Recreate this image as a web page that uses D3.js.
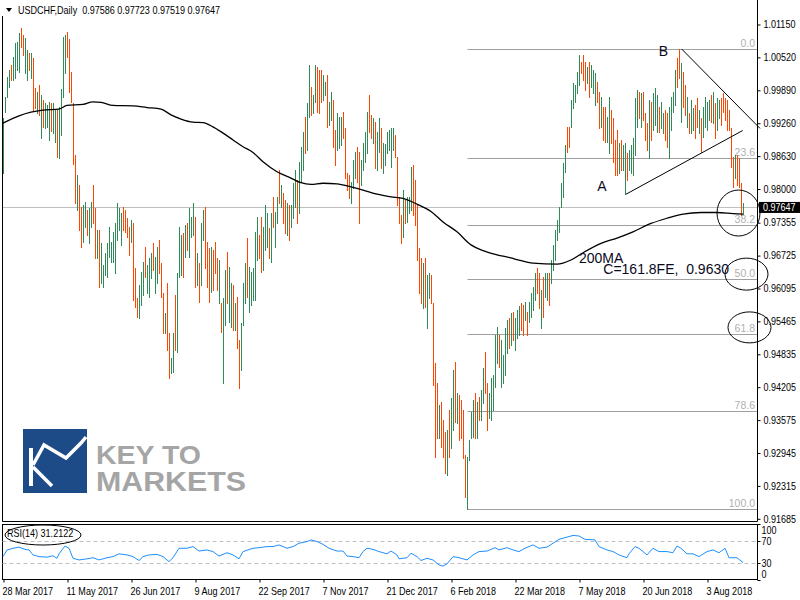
<!DOCTYPE html>
<html><head><meta charset="utf-8">
<script src="https://cdn.jsdelivr.net/npm/d3@7"></script>
<style>
body{margin:0;background:#fff}
svg{display:block}
.ax text, text.ax{font-family:"Liberation Sans",Arial,sans-serif;font-size:11px}
.ax text{fill:#000}
.ay text{font-family:"Liberation Sans",Arial,sans-serif;font-size:10px;fill:#000}
</style>
</head><body><svg id="c" width="800" height="600"></svg>
<script>
// ---------- data ----------
const symbolTitle = "USDCHF,Daily";
const lastOHLC = ["0.97586","0.97723","0.97519","0.97647"];
const lastPrice = 0.97647;
const dateLabels = ["28 Mar 2017","11 May 2017","26 Jun 2017","9 Aug 2017","22 Sep 2017","7 Nov 2017","21 Dec 2017","6 Feb 2018","22 Mar 2018","7 May 2018","20 Jun 2018","3 Aug 2018"];
const dateLabelIdx = [0,32,64,96,128,160,192,224,256,288,320,352];
const priceTicks = [1.01150,1.00520,0.99890,0.99260,0.98630,0.98000,0.97355,0.96725,0.96095,0.95465,0.94835,0.94205,0.93575,0.92945,0.92315,0.91685];
const rsiTicks = [100,70,30,0];
const rsiLevels = [70,30];

const highs = [0.9936,0.9976,1.0015,1.0028,1.0037,1.0053,1.0080,1.0082,1.0099,1.0108,
1.0095,1.0089,1.0066,1.0061,1.0061,1.0051,0.9993,0.9986,0.9999,0.9980,
0.9970,0.9965,0.9961,0.9967,0.9965,0.9965,0.9951,0.9951,0.9957,0.9992,
1.0091,1.0095,1.0101,1.0087,1.0024,0.9965,0.9865,0.9827,0.9808,0.9766,
0.9769,0.9775,0.9760,0.9764,0.9775,0.9808,0.9764,0.9722,0.9722,0.9697,
0.9655,0.9677,0.9697,0.9727,0.9699,0.9718,0.9735,0.9773,0.9764,0.9754,
0.9766,0.9760,0.9744,0.9727,0.9741,0.9735,0.9649,0.9591,0.9616,0.9641,
0.9660,0.9689,0.9655,0.9668,0.9677,0.9697,0.9670,0.9689,0.9702,0.9658,
0.9601,0.9563,0.9620,0.9524,0.9476,0.9524,0.9597,0.9639,0.9727,0.9712,
0.9716,0.9731,0.9735,0.9764,0.9746,0.9773,0.9746,0.9677,0.9658,0.9735,
0.9760,0.9766,0.9699,0.9687,0.9689,0.9683,0.9699,0.9668,0.9664,0.9582,
0.9591,0.9645,0.9679,0.9651,0.9620,0.9616,0.9582,0.9593,0.9511,0.9543,
0.9620,0.9658,0.9706,0.9651,0.9641,0.9649,0.9718,0.9746,0.9712,0.9746,
0.9727,0.9769,0.9754,0.9725,0.9754,0.9785,0.9756,0.9785,0.9836,0.9808,
0.9792,0.9779,0.9773,0.9769,0.9769,0.9812,0.9836,0.9817,0.9852,0.9880,
0.9909,0.9938,0.9965,1.0037,0.9995,0.9980,1.0037,1.0034,1.0028,1.0028,
1.0018,1.0005,1.0018,0.9967,0.9986,0.9970,0.9913,0.9946,0.9938,0.9938,
0.9948,0.9917,0.9831,0.9827,0.9813,0.9856,0.9871,0.9880,0.9871,0.9856,
0.9888,0.9909,0.9948,0.9980,0.9942,0.9936,0.9928,0.9909,0.9936,0.9917,
0.9888,0.9886,0.9909,0.9913,0.9917,0.9917,0.9903,0.9861,0.9785,0.9750,
0.9798,0.9779,0.9785,0.9785,0.9842,0.9846,0.9817,0.9769,0.9687,0.9668,
0.9658,0.9668,0.9635,0.9639,0.9635,0.9582,0.9467,0.9429,0.9386,0.9392,
0.9358,0.9335,0.9339,0.9377,0.9400,0.9453,0.9469,0.9409,0.9406,0.9396,
0.9377,0.9291,0.9287,0.9319,0.9373,0.9396,0.9409,0.9392,0.9402,0.9415,
0.9457,0.9488,0.9429,0.9409,0.9438,0.9444,0.9520,0.9536,0.9520,0.9511,
0.9482,0.9534,0.9549,0.9553,0.9563,0.9564,0.9553,0.9568,0.9576,0.9582,
0.9578,0.9584,0.9564,0.9584,0.9601,0.9612,0.9639,0.9649,0.9639,0.9607,
0.9632,0.9639,0.9639,0.9639,0.9664,0.9693,0.9722,0.9741,0.9766,0.9812,
0.9850,0.9884,0.9919,0.9919,0.9970,1.0003,0.9999,1.0024,1.0057,1.0043,
1.0057,1.0043,1.0034,1.0043,1.0037,1.0028,1.0022,1.0005,0.9986,0.9976,
0.9957,0.9957,0.9938,0.9976,0.9951,0.9936,0.9894,0.9913,0.9888,0.9894,
0.9884,0.9888,0.9869,0.9875,0.9884,0.9898,0.9974,0.9990,0.9986,0.9984,
0.9986,0.9946,0.9926,0.9970,0.9967,0.9984,0.9993,0.9980,0.9957,0.9967,
0.9946,0.9951,0.9946,0.9957,0.9976,0.9986,1.0028,1.0051,1.0068,1.0041,
1.0024,0.9999,0.9976,0.9946,0.9970,0.9955,0.9961,0.9974,0.9951,0.9936,
0.9957,0.9976,0.9967,0.9970,0.9980,0.9986,0.9965,0.9974,0.9970,0.9974,
0.9984,0.9974,0.9970,0.9951,0.9917,0.9861,0.9865,0.9865,0.9859,0.9812,
0.97723];
const lows = [0.9831,0.9948,0.9976,0.9995,1.0009,1.0009,1.0013,1.0028,1.0024,1.0072,
1.0057,1.0022,1.0009,1.0028,1.0013,0.9951,0.9955,0.9946,0.9942,0.9898,
0.9919,0.9917,0.9919,0.9894,0.9911,0.9907,0.9890,0.9861,0.9859,0.9903,
0.9976,1.0022,1.0053,0.9986,0.9967,0.9848,0.9773,0.9760,0.9722,0.9689,
0.9699,0.9727,0.9712,0.9697,0.9727,0.9735,0.9668,0.9668,0.9612,0.9620,
0.9612,0.9635,0.9632,0.9670,0.9660,0.9660,0.9639,0.9702,0.9722,0.9693,
0.9722,0.9718,0.9708,0.9674,0.9699,0.9587,0.9574,0.9555,0.9553,0.9578,
0.9597,0.9632,0.9601,0.9593,0.9630,0.9645,0.9601,0.9620,0.9639,0.9593,
0.9524,0.9524,0.9492,0.9438,0.9448,0.9450,0.9492,0.9488,0.9632,0.9635,
0.9632,0.9670,0.9683,0.9670,0.9708,0.9712,0.9612,0.9616,0.9584,0.9616,
0.9702,0.9649,0.9612,0.9584,0.9603,0.9607,0.9639,0.9607,0.9582,0.9526,
0.9429,0.9540,0.9582,0.9545,0.9536,0.9530,0.9530,0.9496,0.9419,0.9453,
0.9540,0.9582,0.9593,0.9565,0.9578,0.9587,0.9587,0.9664,0.9668,0.9641,
0.9645,0.9683,0.9689,0.9668,0.9660,0.9727,0.9689,0.9735,0.9773,0.9766,
0.9735,0.9716,0.9712,0.9702,0.9727,0.9744,0.9766,0.9735,0.9754,0.9813,
0.9836,0.9869,0.9875,0.9938,0.9942,0.9946,0.9967,0.9948,0.9946,0.9967,
0.9970,0.9980,0.9919,0.9923,0.9932,0.9880,0.9846,0.9875,0.9879,0.9884,
0.9898,0.9821,0.9798,0.9783,0.9773,0.9802,0.9821,0.9813,0.9735,0.9808,
0.9836,0.9852,0.9869,0.9909,0.9898,0.9888,0.9840,0.9836,0.9871,0.9840,
0.9831,0.9846,0.9869,0.9875,0.9842,0.9875,0.9861,0.9769,0.9735,0.9697,
0.9708,0.9735,0.9737,0.9754,0.9760,0.9750,0.9731,0.9664,0.9601,0.9582,
0.9572,0.9574,0.9534,0.9591,0.9582,0.9425,0.9287,0.9323,0.9323,0.9306,
0.9287,0.9256,0.9252,0.9287,0.9304,0.9339,0.9354,0.9352,0.9319,0.9323,
0.9285,0.9210,0.9187,0.9281,0.9323,0.9325,0.9323,0.9323,0.9358,0.9358,
0.9390,0.9409,0.9339,0.9361,0.9358,0.9377,0.9421,0.9467,0.9459,0.9421,
0.9429,0.9444,0.9486,0.9496,0.9501,0.9511,0.9492,0.9515,0.9520,0.9530,
0.9520,0.9549,0.9520,0.9545,0.9555,0.9568,0.9587,0.9601,0.9572,0.9534,
0.9555,0.9593,0.9587,0.9578,0.9620,0.9645,0.9664,0.9702,0.9718,0.9766,
0.9785,0.9833,0.9871,0.9880,0.9919,0.9955,0.9967,0.9984,0.9999,1.0022,
1.0009,0.9990,1.0003,0.9976,0.9995,0.9984,0.9961,0.9967,0.9917,0.9919,
0.9894,0.9890,0.9890,0.9869,0.9888,0.9852,0.9827,0.9827,0.9831,0.9836,
0.9836,0.9790,0.9817,0.9836,0.9831,0.9827,0.9865,0.9919,0.9936,0.9919,
0.9932,0.9894,0.9875,0.9859,0.9894,0.9913,0.9923,0.9909,0.9909,0.9917,
0.9907,0.9894,0.9880,0.9859,0.9913,0.9948,0.9961,0.9995,1.0013,0.9928,
0.9957,0.9942,0.9919,0.9907,0.9907,0.9913,0.9898,0.9919,0.9907,0.9871,
0.9900,0.9919,0.9913,0.9932,0.9928,0.9926,0.9898,0.9913,0.9936,0.9923,
0.9948,0.9932,0.9913,0.9913,0.9842,0.9804,0.9821,0.9808,0.9804,0.9750,
0.97519];
// G = bar closed up, O = bar closed down
const barDir = "GGGGOGGGGO"+"OGGOGOOGOG"+"OGGGOGGOGG"+"GGOOOOOGOO"+"GGOGGOOGOG"+
"GGGGGGGGGG"+"OOOOGOOOGG"+"GOGGGOGGOO"+"OGOOGGOGGG"+"OGOGGGOGOG"+
"GOOOGOOOGO"+"GGOGGOGOOG"+"GGOGGGGGOO"+"GGGOGOGGOG"+"OOGOGGGOGG"+
"GOGGOGGOOO"+"GGOGGOOGGG"+"OOOOGGGOOG"+"GGGOOGOGGO"+"GGGGGGOOOO"+
"GOGGGOOOOO"+"GOGGOOOOGO"+"OOGOGGOGOO"+"OOGGGGOGOG"+"GOOGGGGGOG"+
"GGGOGOGGGO"+"OGOGGGGOOG"+"OGGOGGGGGG"+"GGOOGGGGGO"+"OOGOGGGOOG"+
"OOGGOOOOGO"+"GGOGGGGGOG"+"OOOGOGGGOG"+"GOOGGGGOOG"+"OOGOGGOOGO"+
"GGGGOGOGGO"+"OOOOOOGOOO"+"G";

// 200-day moving average, read at selected bars
const maIdx = [0,8,14,20,28,32,40,45,49,55,65,72,79,84,89,95,100,105,110,115,120,125,130,137,144,149,154,160,167,174,180,187,194,200,207,214,220,227,234,240,247,254,257,265,277,284,290,299,307,315,324,332,340,349,357,365,370];
const maVal = [0.9926,0.9940,0.9947,0.9951,0.9953,0.9960,0.9962,0.9967,0.9966,0.9960,0.9959,0.9956,0.9953,0.9942,0.9934,0.9928,0.9927,0.9919,0.9907,0.9894,0.9881,0.9870,0.9852,0.9833,0.9821,0.9812,0.9809,0.9811,0.9810,0.9804,0.9798,0.9790,0.9785,0.9782,0.9771,0.9757,0.9737,0.9718,0.9693,0.9682,0.9674,0.9668,0.9665,0.9658,0.9656,0.9664,0.9678,0.9696,0.9706,0.9718,0.9734,0.9744,0.9752,0.9755,0.9755,0.9753,0.9752];

// RSI(14), read at selected bars
const rsiIdx = [0,2,5,8,11,13,15,18,22,25,27,28,31,33,35,38,42,45,48,52,55,58,62,65,68,70,73,77,80,83,85,88,92,95,98,102,105,108,112,115,118,120,125,128,132,135,138,142,145,148,152,154,157,160,163,167,170,172,175,178,180,182,185,188,192,194,197,198,202,204,207,209,212,215,218,220,222,225,228,232,235,238,242,246,248,252,255,258,261,265,268,272,275,278,282,285,288,291,296,298,302,305,308,312,313,316,318,322,325,328,332,335,337,339,342,345,348,352,355,358,361,363,367,370];
const rsiVal = [42,54,57,59,55,54,45,42,41,43.5,39,47,61,57,39,36,38,40,36,40,42,47,45,42,35,42,45,46,42,33,40,57,57,60,52,54,51,43,49,45,38,51,57,58,60,60,63,57,60,66,69,72,69,64,57,52,52,43,42,40,51,57,55,51,47,52,45,38,40,48,42,35,39,36,27,25,29,42,40,36,45,51,52,58,54,58,54,51,57,63,57,59,66,73,77,80,79,73,72,60,54,51,45,40,47,60,57,45,57,51,51,49,61,57,47,47,42,51,54,49,57,40,40,31.2122];
const rsiLabel = "RSI(14) 31.2122";

// Fibonacci retracement
const fibLevels = [0,23.6,38.2,50,61.8,78.6,100];
const fibHigh = 1.00675, fibLow = 0.91866, fibStartIdx = 232;

// drawn objects (bar index, price)
const lowerTrend = [[311.5,0.9790],[369.85,0.9912]];
const upperTrend = [[339.35,1.0068],[378.5,0.9916]];
const notes = [
  {t:"A", i:299.4, p:0.9806, anchor:"middle", mid:true},
  {t:"B", i:330.15, p:1.0064, anchor:"middle", mid:true},
  {t:"200MA", i:288, p:0.9658, anchor:"start"},
  {t:"C=161.8FE,  0.9630", i:300.15, p:0.9637, anchor:"start"}
];
const rings = [
  {i:367.75, p:0.9754, rx:21.5, ry:23},
  {i:371.75, p:0.9637, rx:21.5, ry:16},
  {i:373.25, p:0.9535, rx:21.5, ry:15.5}
];

// ---------- layout ----------
const svg = d3.select("#c");
const plotL = 2.5, plotR = 757.5, mainBot = 521.5, rsiTop = 524.5, rsiBot = 579.5;
const x = d3.scaleLinear().domain([0, 370]).range([3, 743]);
const y = d3.scaleLinear().domain([0.91685, 1.01150]).range([518.8, 24.5]);
const yR = d3.scaleLinear().domain([0, 100]).range([580, 524.3]);
const px = v => Math.round(v) + 0.5;
function narrow(sel, f){ sel.each(function(){ const w=this.getComputedTextLength(); if(w>0){ d3.select(this).attr("textLength", (w*f).toFixed(1)).attr("lengthAdjust","spacingAndGlyphs"); } }); }

// watermark logo
const logo = svg.append("g");
logo.append("rect").attr("x",23).attr("y",429).attr("width",64).attr("height",64).attr("fill","#1d4b88");
logo.append("rect").attr("x",29).attr("y",448).attr("width",4).attr("height",38).attr("fill","#fff");
logo.append("path").attr("d","M33,467 L52,486").attr("stroke","#fff").attr("stroke-width",3.5).attr("fill","none");
logo.append("path").attr("d","M33,465 L44,445 L66,458 L81,443 L86,437").attr("stroke","#fff").attr("stroke-width",3.5).attr("fill","none").attr("stroke-linejoin","miter");
logo.append("text").attr("x",96).attr("y",463.5).attr("textLength",105).attr("lengthAdjust","spacingAndGlyphs")
  .style("font-family","'Liberation Sans',Arial,sans-serif").style("font-size","25px").style("font-weight","bold").attr("fill","#a5a5a5").text("KEY TO");
logo.append("text").attr("x",96).attr("y",490.5).attr("textLength",150).attr("lengthAdjust","spacingAndGlyphs")
  .style("font-family","'Liberation Sans',Arial,sans-serif").style("font-size","27px").style("font-weight","bold").attr("fill","#a5a5a5").text("MARKETS");

// current price line
svg.append("line").attr("x1",plotL).attr("x2",plotR).attr("y1",px(y(lastPrice))).attr("y2",px(y(lastPrice)))
  .attr("stroke","#c0c0c0").attr("stroke-width",1);

// fib levels
const fib = svg.append("g");
fibLevels.forEach(l => {
  const p = fibHigh - (fibHigh - fibLow) * l / 100;
  fib.append("line").attr("x1",px(x(fibStartIdx))).attr("x2",plotR).attr("y1",px(y(p))).attr("y2",px(y(p)))
    .attr("stroke","#a0a0a0").attr("stroke-width",1);
  fib.append("text").attr("x",755).attr("y",px(y(p))-2.5).attr("text-anchor","end")
    .style("font-family","'Liberation Sans',Arial,sans-serif").style("font-size","10.5px").attr("fill","#b0b0b0")
    .text(l === 0 ? "0.0" : l === 100 ? "100.0" : d3.format(".1f")(l));
});

// bars (1px high-low bars)
const bars = highs.map((h,i)=>({i, h, l:lows[i], up:barDir[i]==="G"}));
svg.append("g").attr("shape-rendering","crispEdges").selectAll("rect").data(bars).join("rect")
  .attr("x",d=>Math.round(x(d.i))).attr("width",1)
  .attr("y",d=>Math.round(y(d.h))).attr("height",d=>Math.max(1, Math.round(y(d.l))-Math.round(y(d.h))+1))
  .attr("fill",d=>d.up?"#2e8b57":"#ff4500");

// 200 MA
const maData = maIdx.map((i,k)=>[i, maVal[k]]);
svg.append("path").datum(maData)
  .attr("d", d3.line().x(d=>x(d[0])).y(d=>y(d[1])).curve(d3.curveMonotoneX))
  .attr("fill","none").attr("stroke","#000").attr("stroke-width",1.3);

// trend lines
[lowerTrend, upperTrend].forEach(t => {
  svg.append("line").attr("x1",x(t[0][0])).attr("y1",y(t[0][1])).attr("x2",x(t[1][0])).attr("y2",y(t[1][1]))
    .attr("stroke","#000").attr("stroke-width",1);
});

// rings
rings.forEach(r => {
  svg.append("ellipse").attr("cx",x(r.i)).attr("cy",y(r.p)).attr("rx",r.rx).attr("ry",r.ry)
    .attr("fill","none").attr("stroke","#000").attr("stroke-width",1);
});

// notes
notes.forEach(n => {
  svg.append("text").attr("x",x(n.i)).attr("y",y(n.p)).attr("dy", n.mid ? "0.36em" : 0)
    .attr("text-anchor",n.anchor).style("white-space","pre")
    .style("font-family","'Liberation Sans',Arial,sans-serif").style("font-size","14px").attr("fill","#0a0a1e")
    .text(n.t);
});

// frame
svg.append("path").attr("d",`M${plotL},16 V${mainBot} H${plotR} V0`).attr("fill","none").attr("stroke","#000").attr("stroke-width",1);

// price axis
const yAxis = svg.append("g").attr("class","ay").attr("transform",`translate(${plotR},0)`)
  .call(d3.axisRight(y).tickValues(priceTicks).tickFormat(d3.format(".5f")).tickSize(3).tickPadding(3));
yAxis.select(".domain").remove();
yAxis.selectAll("line").attr("stroke","#000");
narrow(yAxis.selectAll("text"), 0.9);

// last price box
svg.append("rect").attr("x",759).attr("y",y(lastPrice)-5.5).attr("width",41).attr("height",11).attr("fill","#000");
narrow(svg.append("text").attr("x",763).attr("y",y(lastPrice)+3.5)
  .style("font-family","'Liberation Sans',Arial,sans-serif").style("font-size","10px")
  .attr("fill","#fff").text(lastOHLC[3]), 0.9);

// title
svg.append("path").attr("d","M6,8 H12 L9,12 Z").attr("fill","#000");
narrow(svg.append("text").attr("class","ax").attr("x",18).attr("y",14).style("white-space","pre").attr("fill","#000")
  .text(symbolTitle + "  " + lastOHLC.join(" ")), 0.82);

// RSI panel
svg.append("rect").attr("x",plotL).attr("y",rsiTop).attr("width",plotR-plotL).attr("height",rsiBot-rsiTop)
  .attr("fill","none").attr("stroke","#000").attr("stroke-width",1);
rsiLevels.forEach(v => {
  svg.append("line").attr("x1",plotL).attr("x2",plotR).attr("y1",px(yR(v))).attr("y2",px(yR(v)))
    .attr("stroke","#c0c0c0").attr("stroke-dasharray","4,3");
});
svg.append("path").datum(rsiIdx.map((i,k)=>[i, rsiVal[k]]))
  .attr("d", d3.line().x(d=>x(d[0])).y(d=>yR(d[1])))
  .attr("fill","none").attr("stroke","#1e90ff").attr("stroke-width",1);
narrow(svg.append("text").attr("class","ax").attr("x",7).attr("y",537).attr("fill","#000").text(rsiLabel), 0.82);
svg.append("ellipse").attr("cx",43).attr("cy",535).attr("rx",38).attr("ry",10).attr("fill","none").attr("stroke","#000");
const rsiAx = svg.append("g").attr("class","ay");
rsiTicks.forEach(v => {
  const yy = Math.max(529.5, Math.min(574, yR(v)));
  rsiAx.append("line").attr("x1",plotR).attr("x2",plotR+3).attr("y1",px(yR(v))).attr("y2",px(yR(v))).attr("stroke","#000");
  rsiAx.append("text").attr("x",plotR+4).attr("y",yy+4).text(v);
});
narrow(rsiAx.selectAll("text"), 0.9);

// date axis
const xAxis = svg.append("g").attr("class","ax").attr("transform",`translate(0,${rsiBot})`)
  .call(d3.axisBottom(x).tickValues(dateLabelIdx).tickFormat((d,i)=>dateLabels[i]).tickSize(3).tickPadding(5));
xAxis.select(".domain").remove();
xAxis.selectAll("line").attr("stroke","#000").attr("transform","translate(0.5,0)");
xAxis.selectAll("text").attr("text-anchor","start").attr("dx",-1);
narrow(xAxis.selectAll("text"), 0.82);
</script>
</body></html>
